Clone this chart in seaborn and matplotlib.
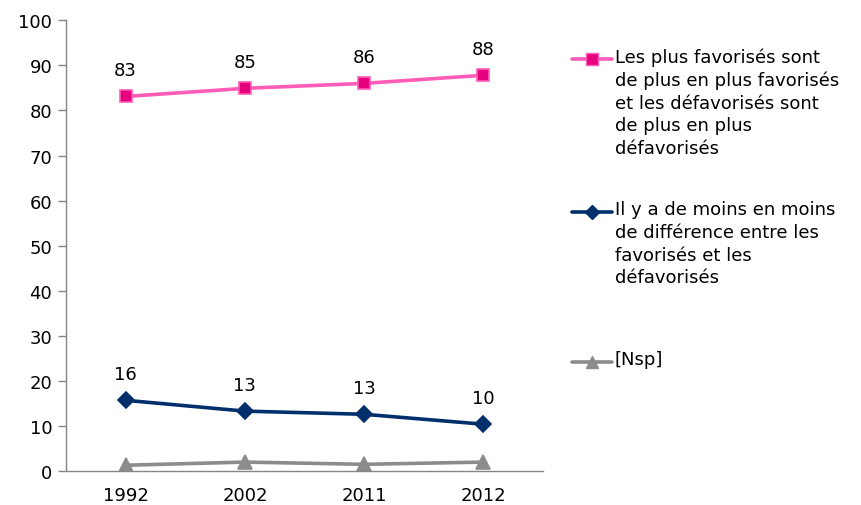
import pandas as pd
import matplotlib.pyplot as plt
import seaborn as sns
from matplotlib.lines import Line2D

# Données
annees = ['1992', '2002', '2011', '2012']
favorises = [83.1, 84.9, 86.0, 87.8]
moins_diff = [15.7, 13.3, 12.6, 10.4]
nsp = [1.3, 2.0, 1.5, 2.0]
etiq_fav = ['83', '85', '86', '88']
etiq_moins = ['16', '13', '13', '10']

labels = [
    "Les plus favorisés sont\nde plus en plus favorisés\net les défavorisés sont\nde plus en plus\ndéfavorisés",
    "Il y a de moins en moins\nde différence entre les\nfavorisés et les\ndéfavorisés",
    "[Nsp]",
]

sns.set_style('white')
plt.rcParams['font.family'] = ['DejaVu Sans']
plt.rcParams['font.size'] = 13
plt.rcParams['text.color'] = 'black'
plt.rcParams['xtick.color'] = 'black'
plt.rcParams['ytick.color'] = 'black'

fig = plt.figure(figsize=(8.61, 5.06), dpi=100)
ax = fig.add_axes([0.0767, 0.067, 0.554, 0.891])

pos = list(range(len(annees)))
df = pd.DataFrame({'pos': pos, 'fav': favorises, 'moins': moins_diff, 'nsp': nsp})

series = [
    ('fav', '#FF5CB8', 's', '#E6007E', 9),
    ('moins', '#002F6C', 'D', '#002F6C', 8),
    ('nsp', '#8C8C8C', '^', '#8C8C8C', 10),
]
for col, c, m, fc, ms in series:
    sns.lineplot(data=df, x='pos', y=col, ax=ax, color=c, linewidth=2.6,
                 marker=m, markersize=ms, markerfacecolor=fc, markeredgecolor=c,
                 markeredgewidth=1.2)

# étiquettes de données
for i, (v, t) in enumerate(zip(favorises, etiq_fav)):
    ax.annotate(t, (i, v), xytext=(0, 19), textcoords='offset points',
                ha='center', va='center', fontsize=13)
for i, (v, t) in enumerate(zip(moins_diff, etiq_moins)):
    ax.annotate(t, (i, v), xytext=(0, 19), textcoords='offset points',
                ha='center', va='center', fontsize=13)

ax.set_xlim(-0.5, len(annees) - 0.5)
ax.set_ylim(0, 100)
ax.set_yticks(range(0, 101, 10))
ax.set_xticks(pos)
ax.set_xticklabels(annees)
ax.set_xticks([p - 0.5 for p in pos] + [len(annees) - 0.5], minor=True)
ax.tick_params(axis='x', which='major', length=0, pad=11)
ax.tick_params(axis='x', which='minor', length=6, width=1, color='#868686', direction='out')
ax.tick_params(axis='y', length=6, width=1, color='#868686', labelcolor='black',
               direction='out', left=True, pad=4)
ax.tick_params(axis='x', labelcolor='black')
ax.set_xlabel('')
ax.set_ylabel('')
for s in ['top', 'right']:
    ax.spines[s].set_visible(False)
for s in ['left', 'bottom']:
    ax.spines[s].set_color('#868686')
    ax.spines[s].set_linewidth(1)

# légende dessinée à la main, symbole aligné sur la première ligne
leg_y = [60, 213, 363]
for (col, c, m, fc, ms), lab, yp in zip(series, labels, leg_y):
    yf = 1 - yp / 506
    fig.add_artist(Line2D([572 / 861, 612 / 861], [yf, yf], color=c, linewidth=2.6,
                          transform=fig.transFigure))
    fig.add_artist(Line2D([592 / 861], [yf], color=c, marker=m, markersize=ms - 1,
                          markerfacecolor=fc, markeredgecolor=c, transform=fig.transFigure))
    fig.text(615 / 861, yf + 0.023, lab, ha='left', va='top', fontsize=13,
             linespacing=1.33)

plt.savefig('out.png', dpi=100)
